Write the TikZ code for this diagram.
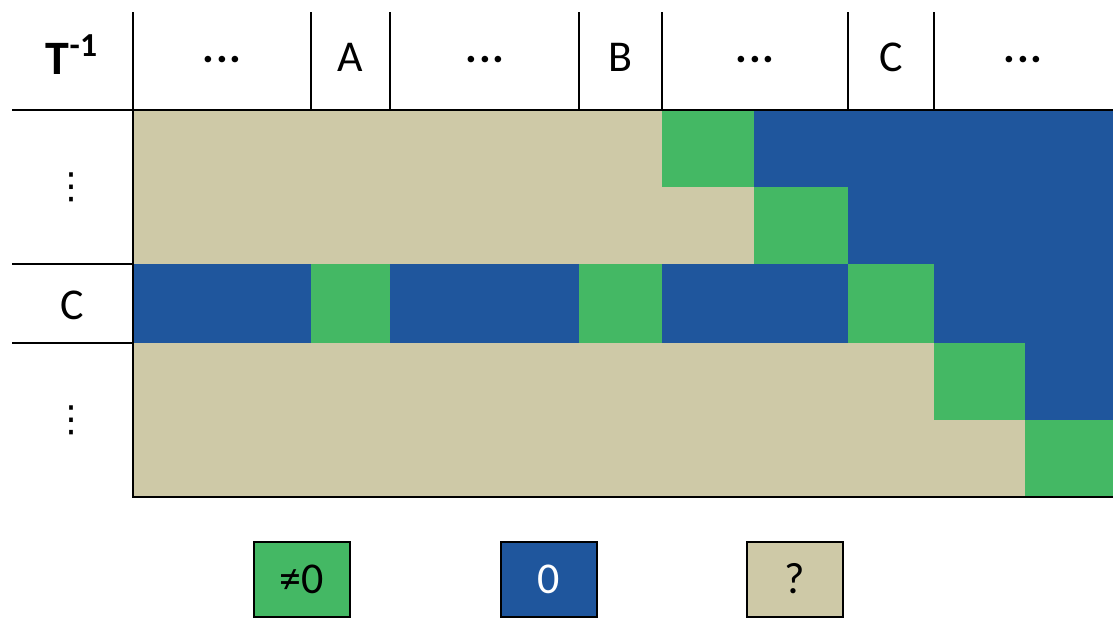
\documentclass[tikz,border=0pt]{standalone}
\usepackage{fontspec}
\setmainfont{Carlito}
\newfontfamily\symbolfont{DejaVu Sans}
\usepackage{tikz}
\usetikzlibrary{positioning}
\definecolor{cellgreen}{HTML}{44B864}
\definecolor{cellblue}{HTML}{1F569D}
\definecolor{celltan}{HTML}{CEC9A7}

\begin{document}
\begin{tikzpicture}[
    x=0.5pt, y=-0.5pt,
    gridline/.style={draw=black, line width=1.25pt},
    hdr/.style={font=\fontsize{22}{26}\selectfont, inner sep=0pt},
    legend/.style={rectangle, draw=black, line width=1pt, minimum width=48pt, minimum height=37.5pt, font=\fontsize{22}{26}\selectfont, inner sep=0pt}
]
\useasboundingbox (0,0) rectangle (1113,618);

% Row 1 and 2: upper block
\fill[celltan] (133,110) rectangle (662,187);
\fill[cellgreen] (662,110) rectangle (754,187);
\fill[cellblue] (754,110) rectangle (1113,187);
\fill[celltan] (133,187) rectangle (754,264);
\fill[cellgreen] (754,187) rectangle (848,264);
\fill[cellblue] (848,187) rectangle (1113,264);

% Row C
\fill[cellblue] (133,264) rectangle (311,343);
\fill[cellgreen] (311,264) rectangle (390,343);
\fill[cellblue] (390,264) rectangle (579,343);
\fill[cellgreen] (579,264) rectangle (662,343);
\fill[cellblue] (662,264) rectangle (848,343);
\fill[cellgreen] (848,264) rectangle (934,343);
\fill[cellblue] (934,264) rectangle (1113,343);

% Row 4 and 5: lower block
\fill[celltan] (133,343) rectangle (934,420);
\fill[cellgreen] (934,343) rectangle (1025,420);
\fill[cellblue] (1025,343) rectangle (1113,420);
\fill[celltan] (133,420) rectangle (1025,497);
\fill[cellgreen] (1025,420) rectangle (1113,497);

% Grid lines
\draw[gridline] (12,110) -- (1113,110);
\draw[gridline] (12,264) -- (133,264);
\draw[gridline] (12,343) -- (133,343);
\draw[gridline] (133,12) -- (133,497) -- (1113,497);
\foreach \cx in {311,390,579,662,848,934}
    \draw[gridline] (\cx,12) -- (\cx,110);

% Header labels
\node[hdr] (title) at (72,55) {\textbf{\fontsize{24}{28}\selectfont T\textsuperscript{-1}}};
\node[hdr] (dotsa) at (222,60) {\textbf{.\kern1pt.\kern1pt.}};
\node[hdr] (cola) at (350,57) {A};
\node[hdr] (dotsb) at (485,60) {\textbf{.\kern1pt.\kern1pt.}};
\node[hdr] (colb) at (620,57) {B};
\node[hdr] (dotsc) at (755,60) {\textbf{.\kern1pt.\kern1pt.}};
\node[hdr] (colc) at (891,57) {C};
\node[hdr] (dotsd) at (1023,60) {\textbf{.\kern1pt.\kern1pt.}};

% Row labels
\node[hdr] (rowtop) at (72,187) {\symbolfont\fontsize{18}{21}\selectfont ⋮};
\node[hdr] (rowc) at (72,305) {C};
\node[hdr] (rowbot) at (72,420) {\symbolfont\fontsize{18}{21}\selectfont ⋮};

% Legend
\node[legend, fill=cellgreen] (lgnonzero) at (301.5,579) {≠0};
\node[legend, fill=cellblue, text=white] (lgzero) at (548.5,579) {0};
\node[legend, fill=celltan] (lgunknown) at (795,579) {?};

\end{tikzpicture}
\end{document}
